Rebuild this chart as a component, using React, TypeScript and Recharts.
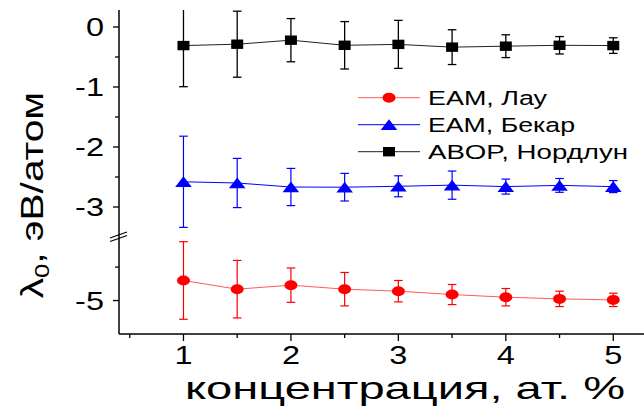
import React from 'react';
import { LineChart, Line, XAxis, YAxis, ErrorBar, Legend } from 'recharts';

const concentration = [1, 1.5, 2, 2.5, 3, 3.5, 4, 4.5, 5];
const lauValues = [-4.70, -4.83, -4.77, -4.83, -4.86, -4.91, -4.95, -4.975, -4.99];
const lauErrors = [0.58, 0.43, 0.257, 0.25, 0.16, 0.15, 0.13, 0.115, 0.1];
const beckerValues = [-2.58, -2.60, -2.667, -2.67, -2.655, -2.636, -2.66, -2.64, -2.66];
const beckerErrors = [0.76, 0.41, 0.31, 0.23, 0.175, 0.235, 0.125, 0.115, 0.1];
const nordlundValues = [-0.31, -0.287, -0.22, -0.305, -0.29, -0.336, -0.32, -0.305, -0.31];
const nordlundErrors = [0.685, 0.55, 0.36, 0.395, 0.4, 0.29, 0.19, 0.145, 0.13];

const xTicks = [0.5, 1, 1.5, 2, 2.5, 3, 3.5, 4, 4.5, 5];
const topYTicks = [0, -0.5, -1, -1.5, -2, -2.5, -3];
const bottomYTicks = [-4.5, -5];
const seriesNames = ['EAM, Лау', 'EAM, Бекар', 'ABOP, Нордлун'];
const xTitle = 'концентрация, ат. %';

const FONT = '"Liberation Sans", Arial, sans-serif';
const W = 644;
const H = 410;
const AXIS_X = 119;
const AXIS_Y = 334;
const BREAK_Y = 237;
const TOP_Y = 10;
const X_DOMAIN: [number, number] = [0.4, 5.286];

const topData = concentration.map((c, i) => ({
  c,
  becker: beckerValues[i],
  beckerErr: beckerErrors[i],
  nordlund: nordlundValues[i],
  nordlundErr: nordlundErrors[i],
}));
const bottomData = concentration.map((c, i) => ({ c, lau: lauValues[i], lauErr: lauErrors[i] }));

const RED = '#ff0000';
const BLUE = '#0000ff';
const BLACK = '#000000';

const circleShape = (cx: number, cy: number, key?: string) => (
  <ellipse key={key} cx={cx} cy={cy} rx={6.5} ry={5} fill={RED} />
);
const triangleShape = (cx: number, cy: number, key?: string) => (
  <polygon key={key} points={`${cx},${cy - 5.5} ${cx - 8.3},${cy + 5.3} ${cx + 8.3},${cy + 5.3}`} fill={BLUE} />
);
const squareShape = (cx: number, cy: number, key?: string) => (
  <rect key={key} x={cx - 6} y={cy - 4.7} width={12} height={9.4} fill={BLACK} />
);

const YTick = (props: any) => {
  const { y, payload } = props;
  const v = payload.value as number;
  const major = Number.isInteger(v);
  return (
    <g>
      <line x1={AXIS_X - (major ? 6 : 4)} x2={AXIS_X} y1={y} y2={y} stroke="#000" strokeWidth={1.3} />
      {major && (
        <g transform={`translate(104,${y}) scale(1.3,1)`}>
          <text x={0} y={0} dy={9} textAnchor="end" fontSize={25} fontFamily={FONT} fill="#000">
            {String(v)}
          </text>
        </g>
      )}
    </g>
  );
};

const XTick = (props: any) => {
  const { x, payload } = props;
  const v = payload.value as number;
  const major = Number.isInteger(v);
  return (
    <g>
      <line x1={x} x2={x} y1={AXIS_Y} y2={AXIS_Y + (major ? 7 : 4)} stroke="#000" strokeWidth={1.3} />
      {major && (
        <g transform={`translate(${x},364) scale(1.3,1)`}>
          <text x={0} y={0} textAnchor="middle" fontSize={25} fontFamily={FONT} fill="#000">
            {String(v)}
          </text>
        </g>
      )}
    </g>
  );
};

const YLabel = () => (
  <g transform="translate(43,195) rotate(-90) scale(1.27,1)">
    <text x={0} y={0} textAnchor="middle" fontSize={32} fontFamily={FONT} fill="#000">
      λ<tspan fontSize={20} dy={6}>0</tspan>
      <tspan dy={-6}>, эВ/атом</tspan>
    </text>
  </g>
);

const XLabel = () => (
  <text
    x={185}
    y={399}
    fontSize={32}
    fontFamily={FONT}
    fill="#000"
    textLength={440}
    lengthAdjust="spacingAndGlyphs"
  >
    {xTitle}
  </text>
);

const legendItems = [
  { name: seriesNames[0], color: RED, line: '#ff5a5a', shape: circleShape, len: 119 },
  { name: seriesNames[1], color: BLUE, line: BLUE, shape: triangleShape, len: 147 },
  { name: seriesNames[2], color: BLACK, line: '#222', shape: squareShape, len: 200 },
];

const LegendContent = () => (
  <svg width={290} height={85} style={{ display: 'block', overflow: 'visible' }}>
    {legendItems.map((it, i) => {
      const y = 15.7 + i * 27;
      return (
        <g key={it.name}>
          <line x1={8} x2={70} y1={y} y2={y} stroke={it.line} strokeWidth={1} />
          {it.shape(39, y)}
          <text
            x={78}
            y={y + 7.3}
            fontSize={20.5}
            fontFamily={FONT}
            fill="#000"
            textLength={it.len}
            lengthAdjust="spacingAndGlyphs"
          >
            {it.name}
          </text>
        </g>
      );
    })}
  </svg>
);

export default function App() {
  return (
    <div style={{ position: 'absolute', left: 0, top: 0, width: W, height: H, background: '#fff' }}>
      <div style={{ position: 'absolute', left: 0, top: 0 }}>
        <LineChart width={W} height={H} data={bottomData} margin={{ top: BREAK_Y, right: 0, bottom: 0, left: 0 }}>
          <XAxis
            dataKey="c"
            type="number"
            domain={X_DOMAIN}
            ticks={xTicks}
            interval={0}
            allowDataOverflow
            height={H - AXIS_Y}
            axisLine={{ stroke: '#000', strokeWidth: 1.5 }}
            tickLine={false}
            tick={<XTick />}
            label={{ content: <XLabel /> }}
          />
          <YAxis
            type="number"
            domain={[-5.5, -4.05]}
            ticks={bottomYTicks}
            interval={0}
            allowDataOverflow
            width={AXIS_X}
            axisLine={{ stroke: '#000', strokeWidth: 1.5 }}
            tickLine={false}
            tick={<YTick />}
          />
          <Line
            dataKey="lau"
            stroke="#ff5a5a"
            strokeWidth={1}
            isAnimationActive={false}
            dot={(p: any) => circleShape(p.cx, p.cy, `lau-${p.index}`)}
            activeDot={false}
          >
            <ErrorBar dataKey="lauErr" direction="y" width={4.3} stroke={RED} strokeWidth={1.2} />
          </Line>
        </LineChart>
      </div>
      <div style={{ position: 'absolute', left: 0, top: 0, clipPath: `inset(${TOP_Y}px 0 0 0)` }}>
        <LineChart width={W} height={H} data={topData} margin={{ top: TOP_Y, right: 0, bottom: H - BREAK_Y, left: 0 }}>
          <XAxis dataKey="c" type="number" domain={X_DOMAIN} ticks={xTicks} allowDataOverflow hide />
          <YAxis
            type="number"
            domain={[-3.5, 0.283]}
            ticks={topYTicks}
            interval={0}
            allowDataOverflow
            width={AXIS_X}
            axisLine={{ stroke: '#000', strokeWidth: 1.5 }}
            tickLine={false}
            tick={<YTick />}
            label={{ content: <YLabel /> }}
          />
          <Legend
            layout="vertical"
            align="center"
            verticalAlign="middle"
            content={<LegendContent />}
            wrapperStyle={{ left: 350, top: 82, width: 290, height: 85 }}
          />
          <Line
            dataKey="nordlund"
            name={seriesNames[2]}
            stroke="#222"
            strokeWidth={1}
            isAnimationActive={false}
            dot={(p: any) => squareShape(p.cx, p.cy, `nord-${p.index}`)}
            activeDot={false}
          >
            <ErrorBar dataKey="nordlundErr" direction="y" width={4.3} stroke={BLACK} strokeWidth={1.3} />
          </Line>
          <Line
            dataKey="becker"
            name={seriesNames[1]}
            stroke={BLUE}
            strokeWidth={1}
            isAnimationActive={false}
            dot={(p: any) => triangleShape(p.cx, p.cy, `beck-${p.index}`)}
            activeDot={false}
          >
            <ErrorBar dataKey="beckerErr" direction="y" width={4.3} stroke={BLUE} strokeWidth={1.2} />
          </Line>
        </LineChart>
      </div>
      <svg width={W} height={H} style={{ position: 'absolute', left: 0, top: 0, pointerEvents: 'none' }}>
        <line x1={110} y1={238} x2={127} y2={232} stroke="#000" strokeWidth={1.3} />
        <line x1={110} y1={241.5} x2={127} y2={235.5} stroke="#000" strokeWidth={1.3} />
      </svg>
    </div>
  );
}
